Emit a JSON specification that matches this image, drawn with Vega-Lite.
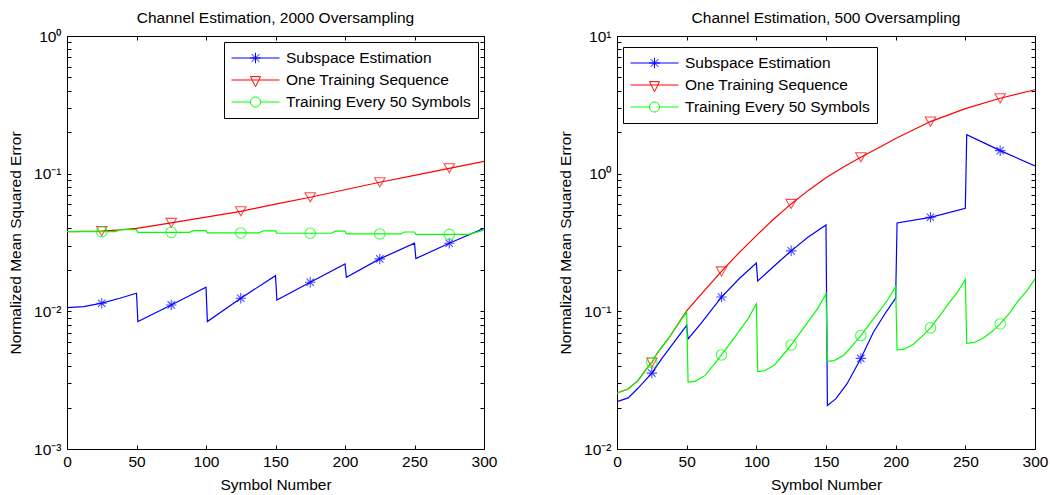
{
  "$schema": "https://vega.github.io/schema/vega-lite/v6.json",
  "background": "white",
  "padding": {"left": 8, "top": 10, "right": 10, "bottom": 5},
  "config": {
    "font": "Liberation Sans",
    "view": {"stroke": "black", "strokeWidth": 1},
    "axis": {"labelFont": "Liberation Sans", "titleFont": "Liberation Sans", "labelColor": "black", "titleColor": "black", "tickColor": "black", "grid": false, "domain": false, "titleFontWeight": "normal", "labelFontSize": 15.5, "titleFontSize": 15.5, "labelFlush": false, "labelOverlap": false, "labelBound": false, "tickSize": -4, "tickWidth": 1},
    "title": {"font": "Liberation Sans", "fontSize": 15.5, "fontWeight": "normal", "color": "black", "frame": "group", "offset": 3},
    "legend": {"title": null, "strokeColor": "black", "fillColor": "white", "padding": 7, "labelFont": "Liberation Sans", "labelFontSize": 15.5, "labelColor": "black", "labelOffset": 6, "labelLimit": 400, "symbolSize": 2304, "symbolStrokeWidth": 1, "rowPadding": 4, "clipHeight": 18}
  },
  "datasets": {
    "lines": [
      {"panel": "2000", "series": "Subspace Estimation", "symbol": 0, "nmse": 0.01063},
      {"panel": "2000", "series": "Subspace Estimation", "symbol": 12, "nmse": 0.01082},
      {"panel": "2000", "series": "Subspace Estimation", "symbol": 25, "nmse": 0.01146},
      {"panel": "2000", "series": "Subspace Estimation", "symbol": 38, "nmse": 0.01245},
      {"panel": "2000", "series": "Subspace Estimation", "symbol": 50, "nmse": 0.01353},
      {"panel": "2000", "series": "Subspace Estimation", "symbol": 51, "nmse": 0.00842},
      {"panel": "2000", "series": "Subspace Estimation", "symbol": 75, "nmse": 0.01113},
      {"panel": "2000", "series": "Subspace Estimation", "symbol": 100, "nmse": 0.01496},
      {"panel": "2000", "series": "Subspace Estimation", "symbol": 101, "nmse": 0.00842},
      {"panel": "2000", "series": "Subspace Estimation", "symbol": 125, "nmse": 0.01245},
      {"panel": "2000", "series": "Subspace Estimation", "symbol": 150, "nmse": 0.01817},
      {"panel": "2000", "series": "Subspace Estimation", "symbol": 151, "nmse": 0.0121},
      {"panel": "2000", "series": "Subspace Estimation", "symbol": 175, "nmse": 0.01626},
      {"panel": "2000", "series": "Subspace Estimation", "symbol": 200, "nmse": 0.0221},
      {"panel": "2000", "series": "Subspace Estimation", "symbol": 201, "nmse": 0.0177},
      {"panel": "2000", "series": "Subspace Estimation", "symbol": 225, "nmse": 0.02404},
      {"panel": "2000", "series": "Subspace Estimation", "symbol": 250, "nmse": 0.03124},
      {"panel": "2000", "series": "Subspace Estimation", "symbol": 251, "nmse": 0.0242},
      {"panel": "2000", "series": "Subspace Estimation", "symbol": 275, "nmse": 0.0312},
      {"panel": "2000", "series": "Subspace Estimation", "symbol": 300, "nmse": 0.0401},

      {"panel": "2000", "series": "One Training Sequence", "symbol": 0, "nmse": 0.0379},
      {"panel": "2000", "series": "One Training Sequence", "symbol": 25, "nmse": 0.0382},
      {"panel": "2000", "series": "One Training Sequence", "symbol": 38, "nmse": 0.039},
      {"panel": "2000", "series": "One Training Sequence", "symbol": 50, "nmse": 0.0401},
      {"panel": "2000", "series": "One Training Sequence", "symbol": 75, "nmse": 0.0439},
      {"panel": "2000", "series": "One Training Sequence", "symbol": 100, "nmse": 0.0483},
      {"panel": "2000", "series": "One Training Sequence", "symbol": 125, "nmse": 0.0533},
      {"panel": "2000", "series": "One Training Sequence", "symbol": 150, "nmse": 0.06},
      {"panel": "2000", "series": "One Training Sequence", "symbol": 175, "nmse": 0.0674},
      {"panel": "2000", "series": "One Training Sequence", "symbol": 200, "nmse": 0.0764},
      {"panel": "2000", "series": "One Training Sequence", "symbol": 225, "nmse": 0.0866},
      {"panel": "2000", "series": "One Training Sequence", "symbol": 250, "nmse": 0.0973},
      {"panel": "2000", "series": "One Training Sequence", "symbol": 275, "nmse": 0.1094},
      {"panel": "2000", "series": "One Training Sequence", "symbol": 300, "nmse": 0.123},

      {"panel": "2000", "series": "Training Every 50 Symbols", "symbol": 0, "nmse": 0.0379},
      {"panel": "2000", "series": "Training Every 50 Symbols", "symbol": 25, "nmse": 0.0379},
      {"panel": "2000", "series": "Training Every 50 Symbols", "symbol": 35, "nmse": 0.0379},
      {"panel": "2000", "series": "Training Every 50 Symbols", "symbol": 38, "nmse": 0.0392},
      {"panel": "2000", "series": "Training Every 50 Symbols", "symbol": 50, "nmse": 0.0392},
      {"panel": "2000", "series": "Training Every 50 Symbols", "symbol": 51, "nmse": 0.0375},
      {"panel": "2000", "series": "Training Every 50 Symbols", "symbol": 75, "nmse": 0.0375},
      {"panel": "2000", "series": "Training Every 50 Symbols", "symbol": 88, "nmse": 0.0375},
      {"panel": "2000", "series": "Training Every 50 Symbols", "symbol": 91, "nmse": 0.0386},
      {"panel": "2000", "series": "Training Every 50 Symbols", "symbol": 100, "nmse": 0.0386},
      {"panel": "2000", "series": "Training Every 50 Symbols", "symbol": 101, "nmse": 0.0371},
      {"panel": "2000", "series": "Training Every 50 Symbols", "symbol": 125, "nmse": 0.0371},
      {"panel": "2000", "series": "Training Every 50 Symbols", "symbol": 138, "nmse": 0.0371},
      {"panel": "2000", "series": "Training Every 50 Symbols", "symbol": 141, "nmse": 0.0384},
      {"panel": "2000", "series": "Training Every 50 Symbols", "symbol": 150, "nmse": 0.0384},
      {"panel": "2000", "series": "Training Every 50 Symbols", "symbol": 151, "nmse": 0.0369},
      {"panel": "2000", "series": "Training Every 50 Symbols", "symbol": 175, "nmse": 0.0369},
      {"panel": "2000", "series": "Training Every 50 Symbols", "symbol": 190, "nmse": 0.0369},
      {"panel": "2000", "series": "Training Every 50 Symbols", "symbol": 193, "nmse": 0.0382},
      {"panel": "2000", "series": "Training Every 50 Symbols", "symbol": 200, "nmse": 0.0382},
      {"panel": "2000", "series": "Training Every 50 Symbols", "symbol": 201, "nmse": 0.0365},
      {"panel": "2000", "series": "Training Every 50 Symbols", "symbol": 225, "nmse": 0.0365},
      {"panel": "2000", "series": "Training Every 50 Symbols", "symbol": 240, "nmse": 0.0365},
      {"panel": "2000", "series": "Training Every 50 Symbols", "symbol": 243, "nmse": 0.0377},
      {"panel": "2000", "series": "Training Every 50 Symbols", "symbol": 250, "nmse": 0.0377},
      {"panel": "2000", "series": "Training Every 50 Symbols", "symbol": 251, "nmse": 0.0362},
      {"panel": "2000", "series": "Training Every 50 Symbols", "symbol": 275, "nmse": 0.0362},
      {"panel": "2000", "series": "Training Every 50 Symbols", "symbol": 289, "nmse": 0.0362},
      {"panel": "2000", "series": "Training Every 50 Symbols", "symbol": 300, "nmse": 0.0389},

      {"panel": "500", "series": "Subspace Estimation", "symbol": 0, "nmse": 0.0221},
      {"panel": "500", "series": "Subspace Estimation", "symbol": 8, "nmse": 0.0235},
      {"panel": "500", "series": "Subspace Estimation", "symbol": 15, "nmse": 0.0276},
      {"panel": "500", "series": "Subspace Estimation", "symbol": 25, "nmse": 0.0356},
      {"panel": "500", "series": "Subspace Estimation", "symbol": 32, "nmse": 0.0451},
      {"panel": "500", "series": "Subspace Estimation", "symbol": 41, "nmse": 0.0597},
      {"panel": "500", "series": "Subspace Estimation", "symbol": 50, "nmse": 0.079},
      {"panel": "500", "series": "Subspace Estimation", "symbol": 51, "nmse": 0.063},
      {"panel": "500", "series": "Subspace Estimation", "symbol": 60, "nmse": 0.081},
      {"panel": "500", "series": "Subspace Estimation", "symbol": 75, "nmse": 0.127},
      {"panel": "500", "series": "Subspace Estimation", "symbol": 88, "nmse": 0.174},
      {"panel": "500", "series": "Subspace Estimation", "symbol": 100, "nmse": 0.224},
      {"panel": "500", "series": "Subspace Estimation", "symbol": 101, "nmse": 0.166},
      {"panel": "500", "series": "Subspace Estimation", "symbol": 112, "nmse": 0.21},
      {"panel": "500", "series": "Subspace Estimation", "symbol": 125, "nmse": 0.275},
      {"panel": "500", "series": "Subspace Estimation", "symbol": 137, "nmse": 0.345},
      {"panel": "500", "series": "Subspace Estimation", "symbol": 150, "nmse": 0.424},
      {"panel": "500", "series": "Subspace Estimation", "symbol": 151, "nmse": 0.0207},
      {"panel": "500", "series": "Subspace Estimation", "symbol": 157, "nmse": 0.0231},
      {"panel": "500", "series": "Subspace Estimation", "symbol": 165, "nmse": 0.0297},
      {"panel": "500", "series": "Subspace Estimation", "symbol": 175, "nmse": 0.0455},
      {"panel": "500", "series": "Subspace Estimation", "symbol": 184, "nmse": 0.0705},
      {"panel": "500", "series": "Subspace Estimation", "symbol": 193, "nmse": 0.0984},
      {"panel": "500", "series": "Subspace Estimation", "symbol": 200, "nmse": 0.125},
      {"panel": "500", "series": "Subspace Estimation", "symbol": 201, "nmse": 0.438},
      {"panel": "500", "series": "Subspace Estimation", "symbol": 225, "nmse": 0.482},
      {"panel": "500", "series": "Subspace Estimation", "symbol": 250, "nmse": 0.561},
      {"panel": "500", "series": "Subspace Estimation", "symbol": 251, "nmse": 1.92},
      {"panel": "500", "series": "Subspace Estimation", "symbol": 263, "nmse": 1.68},
      {"panel": "500", "series": "Subspace Estimation", "symbol": 275, "nmse": 1.47},
      {"panel": "500", "series": "Subspace Estimation", "symbol": 300, "nmse": 1.14},

      {"panel": "500", "series": "One Training Sequence", "symbol": 0, "nmse": 0.0255},
      {"panel": "500", "series": "One Training Sequence", "symbol": 8, "nmse": 0.0273},
      {"panel": "500", "series": "One Training Sequence", "symbol": 15, "nmse": 0.0314},
      {"panel": "500", "series": "One Training Sequence", "symbol": 22, "nmse": 0.0392},
      {"panel": "500", "series": "One Training Sequence", "symbol": 25, "nmse": 0.0425},
      {"panel": "500", "series": "One Training Sequence", "symbol": 29, "nmse": 0.05},
      {"panel": "500", "series": "One Training Sequence", "symbol": 37, "nmse": 0.0635},
      {"panel": "500", "series": "One Training Sequence", "symbol": 44, "nmse": 0.0815},
      {"panel": "500", "series": "One Training Sequence", "symbol": 50, "nmse": 0.101},
      {"panel": "500", "series": "One Training Sequence", "symbol": 62.5, "nmse": 0.141},
      {"panel": "500", "series": "One Training Sequence", "symbol": 75, "nmse": 0.195},
      {"panel": "500", "series": "One Training Sequence", "symbol": 87.5, "nmse": 0.266},
      {"panel": "500", "series": "One Training Sequence", "symbol": 100, "nmse": 0.355},
      {"panel": "500", "series": "One Training Sequence", "symbol": 112.5, "nmse": 0.468},
      {"panel": "500", "series": "One Training Sequence", "symbol": 125, "nmse": 0.603},
      {"panel": "500", "series": "One Training Sequence", "symbol": 137.5, "nmse": 0.759},
      {"panel": "500", "series": "One Training Sequence", "symbol": 150, "nmse": 0.933},
      {"panel": "500", "series": "One Training Sequence", "symbol": 162.5, "nmse": 1.117},
      {"panel": "500", "series": "One Training Sequence", "symbol": 175, "nmse": 1.315},
      {"panel": "500", "series": "One Training Sequence", "symbol": 187.5, "nmse": 1.538},
      {"panel": "500", "series": "One Training Sequence", "symbol": 200, "nmse": 1.8},
      {"panel": "500", "series": "One Training Sequence", "symbol": 225, "nmse": 2.39},
      {"panel": "500", "series": "One Training Sequence", "symbol": 250, "nmse": 2.97},
      {"panel": "500", "series": "One Training Sequence", "symbol": 275, "nmse": 3.53},
      {"panel": "500", "series": "One Training Sequence", "symbol": 300, "nmse": 4.07},

      {"panel": "500", "series": "Training Every 50 Symbols", "symbol": 0, "nmse": 0.0255},
      {"panel": "500", "series": "Training Every 50 Symbols", "symbol": 8, "nmse": 0.0273},
      {"panel": "500", "series": "Training Every 50 Symbols", "symbol": 15, "nmse": 0.0314},
      {"panel": "500", "series": "Training Every 50 Symbols", "symbol": 22, "nmse": 0.0392},
      {"panel": "500", "series": "Training Every 50 Symbols", "symbol": 25, "nmse": 0.0425},
      {"panel": "500", "series": "Training Every 50 Symbols", "symbol": 29, "nmse": 0.05},
      {"panel": "500", "series": "Training Every 50 Symbols", "symbol": 37, "nmse": 0.0635},
      {"panel": "500", "series": "Training Every 50 Symbols", "symbol": 44, "nmse": 0.0815},
      {"panel": "500", "series": "Training Every 50 Symbols", "symbol": 50, "nmse": 0.0984},
      {"panel": "500", "series": "Training Every 50 Symbols", "symbol": 51, "nmse": 0.0306},
      {"panel": "500", "series": "Training Every 50 Symbols", "symbol": 56, "nmse": 0.031},
      {"panel": "500", "series": "Training Every 50 Symbols", "symbol": 63, "nmse": 0.0341},
      {"panel": "500", "series": "Training Every 50 Symbols", "symbol": 70, "nmse": 0.0415},
      {"panel": "500", "series": "Training Every 50 Symbols", "symbol": 75, "nmse": 0.0482},
      {"panel": "500", "series": "Training Every 50 Symbols", "symbol": 82, "nmse": 0.06},
      {"panel": "500", "series": "Training Every 50 Symbols", "symbol": 88, "nmse": 0.0727},
      {"panel": "500", "series": "Training Every 50 Symbols", "symbol": 94, "nmse": 0.0882},
      {"panel": "500", "series": "Training Every 50 Symbols", "symbol": 100, "nmse": 0.113},
      {"panel": "500", "series": "Training Every 50 Symbols", "symbol": 101, "nmse": 0.0365},
      {"panel": "500", "series": "Training Every 50 Symbols", "symbol": 106, "nmse": 0.037},
      {"panel": "500", "series": "Training Every 50 Symbols", "symbol": 113, "nmse": 0.0407},
      {"panel": "500", "series": "Training Every 50 Symbols", "symbol": 120, "nmse": 0.0494},
      {"panel": "500", "series": "Training Every 50 Symbols", "symbol": 125, "nmse": 0.057},
      {"panel": "500", "series": "Training Every 50 Symbols", "symbol": 132, "nmse": 0.0713},
      {"panel": "500", "series": "Training Every 50 Symbols", "symbol": 138, "nmse": 0.0863},
      {"panel": "500", "series": "Training Every 50 Symbols", "symbol": 144, "nmse": 0.1047},
      {"panel": "500", "series": "Training Every 50 Symbols", "symbol": 150, "nmse": 0.134},
      {"panel": "500", "series": "Training Every 50 Symbols", "symbol": 151, "nmse": 0.0434},
      {"panel": "500", "series": "Training Every 50 Symbols", "symbol": 156, "nmse": 0.0439},
      {"panel": "500", "series": "Training Every 50 Symbols", "symbol": 163, "nmse": 0.0482},
      {"panel": "500", "series": "Training Every 50 Symbols", "symbol": 170, "nmse": 0.0581},
      {"panel": "500", "series": "Training Every 50 Symbols", "symbol": 175, "nmse": 0.0667},
      {"panel": "500", "series": "Training Every 50 Symbols", "symbol": 182, "nmse": 0.0828},
      {"panel": "500", "series": "Training Every 50 Symbols", "symbol": 188, "nmse": 0.0995},
      {"panel": "500", "series": "Training Every 50 Symbols", "symbol": 194, "nmse": 0.1198},
      {"panel": "500", "series": "Training Every 50 Symbols", "symbol": 200, "nmse": 0.152},
      {"panel": "500", "series": "Training Every 50 Symbols", "symbol": 201, "nmse": 0.0525},
      {"panel": "500", "series": "Training Every 50 Symbols", "symbol": 206, "nmse": 0.0531},
      {"panel": "500", "series": "Training Every 50 Symbols", "symbol": 213, "nmse": 0.0579},
      {"panel": "500", "series": "Training Every 50 Symbols", "symbol": 220, "nmse": 0.0675},
      {"panel": "500", "series": "Training Every 50 Symbols", "symbol": 225, "nmse": 0.0758},
      {"panel": "500", "series": "Training Every 50 Symbols", "symbol": 232, "nmse": 0.094},
      {"panel": "500", "series": "Training Every 50 Symbols", "symbol": 238, "nmse": 0.1143},
      {"panel": "500", "series": "Training Every 50 Symbols", "symbol": 244, "nmse": 0.136},
      {"panel": "500", "series": "Training Every 50 Symbols", "symbol": 250, "nmse": 0.17},
      {"panel": "500", "series": "Training Every 50 Symbols", "symbol": 251, "nmse": 0.0586},
      {"panel": "500", "series": "Training Every 50 Symbols", "symbol": 256, "nmse": 0.0592},
      {"panel": "500", "series": "Training Every 50 Symbols", "symbol": 263, "nmse": 0.0641},
      {"panel": "500", "series": "Training Every 50 Symbols", "symbol": 270, "nmse": 0.0725},
      {"panel": "500", "series": "Training Every 50 Symbols", "symbol": 275, "nmse": 0.081},
      {"panel": "500", "series": "Training Every 50 Symbols", "symbol": 282, "nmse": 0.098},
      {"panel": "500", "series": "Training Every 50 Symbols", "symbol": 288, "nmse": 0.1195},
      {"panel": "500", "series": "Training Every 50 Symbols", "symbol": 294, "nmse": 0.1402},
      {"panel": "500", "series": "Training Every 50 Symbols", "symbol": 300, "nmse": 0.172}
    ],
    "marks": [
      {"panel": "2000", "series": "Subspace Estimation", "symbol": 25, "nmse": 0.01146},
      {"panel": "2000", "series": "Subspace Estimation", "symbol": 75, "nmse": 0.01113},
      {"panel": "2000", "series": "Subspace Estimation", "symbol": 125, "nmse": 0.01245},
      {"panel": "2000", "series": "Subspace Estimation", "symbol": 175, "nmse": 0.01626},
      {"panel": "2000", "series": "Subspace Estimation", "symbol": 225, "nmse": 0.02404},
      {"panel": "2000", "series": "Subspace Estimation", "symbol": 275, "nmse": 0.0312},
      {"panel": "2000", "series": "One Training Sequence", "symbol": 25, "nmse": 0.0382},
      {"panel": "2000", "series": "One Training Sequence", "symbol": 75, "nmse": 0.0439},
      {"panel": "2000", "series": "One Training Sequence", "symbol": 125, "nmse": 0.0533},
      {"panel": "2000", "series": "One Training Sequence", "symbol": 175, "nmse": 0.0674},
      {"panel": "2000", "series": "One Training Sequence", "symbol": 225, "nmse": 0.0866},
      {"panel": "2000", "series": "One Training Sequence", "symbol": 275, "nmse": 0.1094},
      {"panel": "2000", "series": "Training Every 50 Symbols", "symbol": 25, "nmse": 0.0379},
      {"panel": "2000", "series": "Training Every 50 Symbols", "symbol": 75, "nmse": 0.0375},
      {"panel": "2000", "series": "Training Every 50 Symbols", "symbol": 125, "nmse": 0.0371},
      {"panel": "2000", "series": "Training Every 50 Symbols", "symbol": 175, "nmse": 0.0369},
      {"panel": "2000", "series": "Training Every 50 Symbols", "symbol": 225, "nmse": 0.0365},
      {"panel": "2000", "series": "Training Every 50 Symbols", "symbol": 275, "nmse": 0.0362},
      {"panel": "500", "series": "Subspace Estimation", "symbol": 25, "nmse": 0.0356},
      {"panel": "500", "series": "Subspace Estimation", "symbol": 75, "nmse": 0.127},
      {"panel": "500", "series": "Subspace Estimation", "symbol": 125, "nmse": 0.275},
      {"panel": "500", "series": "Subspace Estimation", "symbol": 175, "nmse": 0.0455},
      {"panel": "500", "series": "Subspace Estimation", "symbol": 225, "nmse": 0.482},
      {"panel": "500", "series": "Subspace Estimation", "symbol": 275, "nmse": 1.47},
      {"panel": "500", "series": "One Training Sequence", "symbol": 25, "nmse": 0.0425},
      {"panel": "500", "series": "One Training Sequence", "symbol": 75, "nmse": 0.195},
      {"panel": "500", "series": "One Training Sequence", "symbol": 125, "nmse": 0.603},
      {"panel": "500", "series": "One Training Sequence", "symbol": 175, "nmse": 1.315},
      {"panel": "500", "series": "One Training Sequence", "symbol": 225, "nmse": 2.39},
      {"panel": "500", "series": "One Training Sequence", "symbol": 275, "nmse": 3.53},
      {"panel": "500", "series": "Training Every 50 Symbols", "symbol": 25, "nmse": 0.0425},
      {"panel": "500", "series": "Training Every 50 Symbols", "symbol": 75, "nmse": 0.0482},
      {"panel": "500", "series": "Training Every 50 Symbols", "symbol": 125, "nmse": 0.057},
      {"panel": "500", "series": "Training Every 50 Symbols", "symbol": 175, "nmse": 0.0667},
      {"panel": "500", "series": "Training Every 50 Symbols", "symbol": 225, "nmse": 0.0758},
      {"panel": "500", "series": "Training Every 50 Symbols", "symbol": 275, "nmse": 0.081}
    ]
  },
  "spacing": 60,
  "resolve": {"scale": {"x": "independent", "y": "independent", "color": "independent"}, "legend": {"color": "independent"}},
  "hconcat": [
    {
      "width": 417,
      "height": 413,
      "title": {"text": "Channel Estimation, 2000 Oversampling"},
      "resolve": {"axis": {"x": "independent", "y": "independent"}},
      "layer": [
        {
          "data": {"name": "lines"},
          "transform": [{"filter": "datum.panel == '2000' && datum.series == 'Subspace Estimation'"}],
          "mark": {"type": "line", "strokeWidth": 1.2, "clip": true},
          "encoding": {
            "x": {"field": "symbol", "type": "quantitative", "scale": {"domain": [0, 300], "nice": false},
                  "axis": {"orient": "bottom", "values": [0, 50, 100, 150, 200, 250, 300], "title": "Symbol Number", "labelPadding": 9, "titlePadding": 8}},
            "y": {"field": "nmse", "type": "quantitative", "scale": {"type": "log", "domain": [0.001, 1], "nice": false},
                  "axis": {"orient": "left", "values": [0.001, 0.002, 0.003, 0.004, 0.005, 0.006, 0.007, 0.008, 0.009, 0.01, 0.02, 0.03, 0.04, 0.05, 0.06, 0.07, 0.08, 0.09, 0.1, 0.2, 0.3, 0.4, 0.5, 0.6, 0.7, 0.8, 0.9, 1],
                           "labelExpr": "datum.value == 1 ? '10⁰' : datum.value == 0.1 ? '10⁻¹' : datum.value == 0.01 ? '10⁻²' : datum.value == 0.001 ? '10⁻³' : ''",
                           "title": "Normalized Mean Squared Error", "labelPadding": 10, "titlePadding": 10}},
            "color": {"field": "series", "type": "nominal",
                      "scale": {"domain": ["Subspace Estimation", "One Training Sequence", "Training Every 50 Symbols"], "range": ["#0000ff", "#ff0000", "#00ff00"]},
                      "legend": {"orient": "top-right", "offset": 6,
                                 "encode": {"symbols": {"update": {"fill": {"value": "transparent"},
                                   "shape": {"signal": "datum.value == 'Subspace Estimation' ? 'M-1,0H1M-0.22,0H0.22M0,-0.22V0.22M-0.16,-0.16L0.16,0.16M-0.16,0.16L0.16,-0.16' : datum.value == 'One Training Sequence' ? 'M-1,0H1M-0.21,-0.14H0.21L0,0.28Z' : 'M-1,0H-0.21M0.21,0H1M0.21,0A0.21,0.21 0 1,1 -0.21,0A0.21,0.21 0 1,1 0.21,0Z'"}}}}}}
          }
        },
        {
          "data": {"name": "marks"},
          "transform": [{"filter": "datum.panel == '2000' && datum.series == 'Subspace Estimation'"}],
          "mark": {"type": "point", "filled": false, "strokeWidth": 1.1, "size": 110, "clip": true, "shape": "M-1,0H1M0,-1V1M-0.7,-0.7L0.7,0.7M-0.7,0.7L0.7,-0.7"},
          "encoding": {
            "x": {"field": "symbol", "type": "quantitative", "axis": null},
            "y": {"field": "nmse", "type": "quantitative", "axis": null},
            "color": {"field": "series", "type": "nominal", "legend": null}
          }
        },
        {
          "data": {"name": "lines"},
          "transform": [{"filter": "datum.panel == '2000' && datum.series == 'One Training Sequence'"}],
          "mark": {"type": "line", "strokeWidth": 1.2, "clip": true},
          "encoding": {
            "x": {"field": "symbol", "type": "quantitative",
                  "axis": {"orient": "top", "values": [0, 50, 100, 150, 200, 250, 300], "labels": false, "title": null}},
            "y": {"field": "nmse", "type": "quantitative",
                  "axis": {"orient": "right", "values": [0.001, 0.002, 0.003, 0.004, 0.005, 0.006, 0.007, 0.008, 0.009, 0.01, 0.02, 0.03, 0.04, 0.05, 0.06, 0.07, 0.08, 0.09, 0.1, 0.2, 0.3, 0.4, 0.5, 0.6, 0.7, 0.8, 0.9, 1], "labels": false, "title": null}},
            "color": {"field": "series", "type": "nominal", "legend": null}
          }
        },
        {
          "data": {"name": "marks"},
          "transform": [{"filter": "datum.panel == '2000' && datum.series == 'One Training Sequence'"}],
          "mark": {"type": "point", "filled": false, "strokeWidth": 1.1, "size": 110, "clip": true, "shape": "triangle-down"},
          "encoding": {
            "x": {"field": "symbol", "type": "quantitative", "axis": null},
            "y": {"field": "nmse", "type": "quantitative", "axis": null},
            "color": {"field": "series", "type": "nominal", "legend": null}
          }
        },
        {
          "data": {"name": "lines"},
          "transform": [{"filter": "datum.panel == '2000' && datum.series == 'Training Every 50 Symbols'"}],
          "mark": {"type": "line", "strokeWidth": 1.2, "clip": true},
          "encoding": {
            "x": {"field": "symbol", "type": "quantitative", "axis": null},
            "y": {"field": "nmse", "type": "quantitative", "axis": null},
            "color": {"field": "series", "type": "nominal", "legend": null}
          }
        },
        {
          "data": {"name": "marks"},
          "transform": [{"filter": "datum.panel == '2000' && datum.series == 'Training Every 50 Symbols'"}],
          "mark": {"type": "point", "filled": false, "strokeWidth": 1.1, "size": 110, "clip": true, "shape": "circle"},
          "encoding": {
            "x": {"field": "symbol", "type": "quantitative", "axis": null},
            "y": {"field": "nmse", "type": "quantitative", "axis": null},
            "color": {"field": "series", "type": "nominal", "legend": null}
          }
        }
      ]
    },
    {
      "width": 418,
      "height": 413,
      "title": {"text": "Channel Estimation, 500 Oversampling"},
      "resolve": {"axis": {"x": "independent", "y": "independent"}},
      "layer": [
        {
          "data": {"name": "lines"},
          "transform": [{"filter": "datum.panel == '500' && datum.series == 'Subspace Estimation'"}],
          "mark": {"type": "line", "strokeWidth": 1.2, "clip": true},
          "encoding": {
            "x": {"field": "symbol", "type": "quantitative", "scale": {"domain": [0, 300], "nice": false},
                  "axis": {"orient": "bottom", "values": [0, 50, 100, 150, 200, 250, 300], "title": "Symbol Number", "labelPadding": 9, "titlePadding": 8}},
            "y": {"field": "nmse", "type": "quantitative", "scale": {"type": "log", "domain": [0.01, 10], "nice": false},
                  "axis": {"orient": "left", "values": [0.01, 0.02, 0.03, 0.04, 0.05, 0.06, 0.07, 0.08, 0.09, 0.1, 0.2, 0.3, 0.4, 0.5, 0.6, 0.7, 0.8, 0.9, 1, 2, 3, 4, 5, 6, 7, 8, 9, 10],
                           "labelExpr": "datum.value == 10 ? '10¹' : datum.value == 1 ? '10⁰' : datum.value == 0.1 ? '10⁻¹' : datum.value == 0.01 ? '10⁻²' : ''",
                           "title": "Normalized Mean Squared Error", "labelPadding": 10, "titlePadding": 10}},
            "color": {"field": "series", "type": "nominal",
                      "scale": {"domain": ["Subspace Estimation", "One Training Sequence", "Training Every 50 Symbols"], "range": ["#0000ff", "#ff0000", "#00ff00"]},
                      "legend": {"orient": "none", "legendX": 6, "legendY": 11,
                                 "encode": {"symbols": {"update": {"fill": {"value": "transparent"},
                                   "shape": {"signal": "datum.value == 'Subspace Estimation' ? 'M-1,0H1M-0.22,0H0.22M0,-0.22V0.22M-0.16,-0.16L0.16,0.16M-0.16,0.16L0.16,-0.16' : datum.value == 'One Training Sequence' ? 'M-1,0H1M-0.21,-0.14H0.21L0,0.28Z' : 'M-1,0H-0.21M0.21,0H1M0.21,0A0.21,0.21 0 1,1 -0.21,0A0.21,0.21 0 1,1 0.21,0Z'"}}}}}}
          }
        },
        {
          "data": {"name": "marks"},
          "transform": [{"filter": "datum.panel == '500' && datum.series == 'Subspace Estimation'"}],
          "mark": {"type": "point", "filled": false, "strokeWidth": 1.1, "size": 110, "clip": true, "shape": "M-1,0H1M0,-1V1M-0.7,-0.7L0.7,0.7M-0.7,0.7L0.7,-0.7"},
          "encoding": {
            "x": {"field": "symbol", "type": "quantitative", "axis": null},
            "y": {"field": "nmse", "type": "quantitative", "axis": null},
            "color": {"field": "series", "type": "nominal", "legend": null}
          }
        },
        {
          "data": {"name": "lines"},
          "transform": [{"filter": "datum.panel == '500' && datum.series == 'One Training Sequence'"}],
          "mark": {"type": "line", "strokeWidth": 1.2, "clip": true},
          "encoding": {
            "x": {"field": "symbol", "type": "quantitative",
                  "axis": {"orient": "top", "values": [0, 50, 100, 150, 200, 250, 300], "labels": false, "title": null}},
            "y": {"field": "nmse", "type": "quantitative",
                  "axis": {"orient": "right", "values": [0.01, 0.02, 0.03, 0.04, 0.05, 0.06, 0.07, 0.08, 0.09, 0.1, 0.2, 0.3, 0.4, 0.5, 0.6, 0.7, 0.8, 0.9, 1, 2, 3, 4, 5, 6, 7, 8, 9, 10], "labels": false, "title": null}},
            "color": {"field": "series", "type": "nominal", "legend": null}
          }
        },
        {
          "data": {"name": "marks"},
          "transform": [{"filter": "datum.panel == '500' && datum.series == 'One Training Sequence'"}],
          "mark": {"type": "point", "filled": false, "strokeWidth": 1.1, "size": 110, "clip": true, "shape": "triangle-down"},
          "encoding": {
            "x": {"field": "symbol", "type": "quantitative", "axis": null},
            "y": {"field": "nmse", "type": "quantitative", "axis": null},
            "color": {"field": "series", "type": "nominal", "legend": null}
          }
        },
        {
          "data": {"name": "lines"},
          "transform": [{"filter": "datum.panel == '500' && datum.series == 'Training Every 50 Symbols'"}],
          "mark": {"type": "line", "strokeWidth": 1.2, "clip": true},
          "encoding": {
            "x": {"field": "symbol", "type": "quantitative", "axis": null},
            "y": {"field": "nmse", "type": "quantitative", "axis": null},
            "color": {"field": "series", "type": "nominal", "legend": null}
          }
        },
        {
          "data": {"name": "marks"},
          "transform": [{"filter": "datum.panel == '500' && datum.series == 'Training Every 50 Symbols'"}],
          "mark": {"type": "point", "filled": false, "strokeWidth": 1.1, "size": 110, "clip": true, "shape": "circle"},
          "encoding": {
            "x": {"field": "symbol", "type": "quantitative", "axis": null},
            "y": {"field": "nmse", "type": "quantitative", "axis": null},
            "color": {"field": "series", "type": "nominal", "legend": null}
          }
        }
      ]
    }
  ]
}
